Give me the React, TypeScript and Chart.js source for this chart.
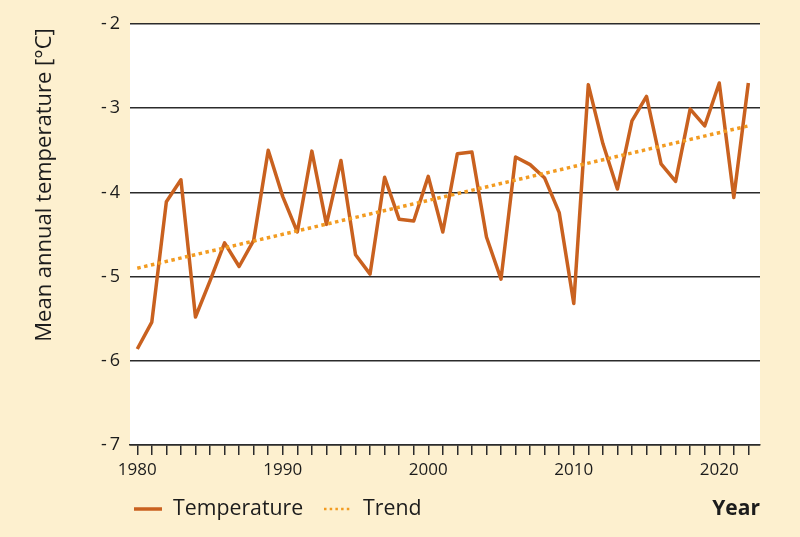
import { useEffect, useRef } from "react";
import { Chart, registerables } from "chart.js";

Chart.register(...registerables);

// Mean annual temperature series, one value per year
const years = [
  1980, 1981, 1982, 1983, 1984, 1985, 1986, 1987, 1988, 1989,
  1990, 1991, 1992, 1993, 1994, 1995, 1996, 1997, 1998, 1999,
  2000, 2001, 2002, 2003, 2004, 2005, 2006, 2007, 2008, 2009,
  2010, 2011, 2012, 2013, 2014, 2015, 2016, 2017, 2018, 2019,
  2020, 2021, 2022,
];
const temperature = [
  -5.86, -5.54, -4.11, -3.85, -5.48, -5.05, -4.6, -4.88, -4.57, -3.5,
  -4.05, -4.47, -3.51, -4.38, -3.62, -4.74, -4.97, -3.82, -4.32, -4.34,
  -3.81, -4.47, -3.54, -3.52, -4.53, -5.03, -3.58, -3.67, -3.83, -4.24,
  -5.32, -2.72, -3.42, -3.96, -3.15, -2.86, -3.66, -3.87, -3.01, -3.21,
  -2.7, -4.06, -2.7,
];

// Linear trend end points
const trendYears = [1980, 2022];
const trendValues = [-4.9, -3.21];

// Axis ticks
const yTicks = [-7, -6, -5, -4, -3, -2];
const decadeLabels = [1980, 1990, 2000, 2010, 2020];

const FONT = "'Open Sans', 'Noto Sans', sans-serif";
const CREAM = "#fdf0cf";
const INK = "#1c1c1c";
const TEMP_COLOR = "#c9611f";
const TREND_COLOR = "#f29b21";

const backdrop = {
  id: "backdrop",
  beforeDraw(chart: any) {
    const { ctx, chartArea } = chart;
    ctx.save();
    ctx.fillStyle = CREAM;
    ctx.fillRect(0, 0, chart.width, chart.height);
    ctx.fillStyle = "#ffffff";
    ctx.fillRect(
      chartArea.left,
      chartArea.top,
      chartArea.right - chartArea.left,
      chartArea.bottom - chartArea.top
    );
    ctx.restore();
  },
};

const annotations = {
  id: "annotations",
  afterDraw(chart: any) {
    const { ctx, chartArea } = chart;
    ctx.save();

    // vertical axis title
    ctx.fillStyle = INK;
    ctx.font = `22px ${FONT}`;
    ctx.textAlign = "center";
    ctx.textBaseline = "middle";
    ctx.translate(45, 185);
    ctx.rotate(-Math.PI / 2);
    ctx.fillText("Mean annual temperature [°C]", 0, 0);
    ctx.setTransform(1, 0, 0, 1, 0, 0);

    // legend row
    const legendY = 509;
    const items = [
      { ds: chart.data.datasets[0], x: 134, w: 3.5, dash: [] as number[] },
      { ds: chart.data.datasets[1], x: 324, w: 2.5, dash: [2.5, 3.2] },
    ];
    ctx.font = `21.3px ${FONT}`;
    ctx.textAlign = "left";
    ctx.textBaseline = "middle";
    for (const it of items) {
      ctx.beginPath();
      ctx.strokeStyle = it.ds.borderColor;
      ctx.lineWidth = it.w;
      ctx.setLineDash(it.dash);
      ctx.moveTo(it.x, legendY);
      ctx.lineTo(it.x + 28, legendY);
      ctx.stroke();
      ctx.setLineDash([]);
      ctx.fillStyle = INK;
      ctx.fillText(it.ds.label, it.x + 39, legendY);
    }

    // horizontal axis title
    ctx.font = `bold 21px ${FONT}`;
    ctx.textAlign = "right";
    ctx.fillText("Year", chartArea.right, legendY);
    ctx.restore();
  },
};

export default function App() {
  const canvasRef = useRef<HTMLCanvasElement | null>(null);

  useEffect(() => {
    const canvas = canvasRef.current;
    if (!canvas) return;

    const chart = new Chart(canvas, {
      type: "line",
      data: {
        datasets: [
          {
            label: "Temperature",
            data: years.map((y, i) => ({ x: y, y: temperature[i] })),
            borderColor: TEMP_COLOR,
            borderWidth: 3.5,
            borderJoinStyle: "round",
            pointRadius: 0,
            tension: 0,
            fill: false,
            order: 1,
          },
          {
            label: "Trend",
            data: trendYears.map((y, i) => ({ x: y, y: trendValues[i] })),
            borderColor: TREND_COLOR,
            borderWidth: 3.5,
            borderDash: [3.5, 3.5],
            pointRadius: 0,
            fill: false,
            order: 0,
          },
        ],
      },
      options: {
        responsive: false,
        animation: false,
        layout: { padding: { top: 24, right: 40, left: 0, bottom: 0 } },
        plugins: {
          legend: { display: false },
          tooltip: { enabled: false },
        },
        scales: {
          x: {
            type: "linear",
            min: 1979.5,
            max: 2022.8,
            afterBuildTicks: (s: any) => {
              s.ticks = years.map((v) => ({ value: v }));
            },
            afterFit: (s: any) => {
              s.height = 92;
            },
            grid: {
              drawOnChartArea: false,
              drawTicks: true,
              tickLength: 10,
              color: "#2b2b2b",
              lineWidth: 1.5,
            },
            border: { display: true, color: "#2b2b2b", width: 1.5 },
            ticks: {
              autoSkip: false,
              maxRotation: 0,
              padding: 5,
              color: INK,
              font: { family: FONT, size: 17 },
              callback: (v: any) =>
                decadeLabels.includes(Number(v)) ? String(v) : "",
            },
          },
          y: {
            min: -7,
            max: -2,
            afterBuildTicks: (s: any) => {
              s.ticks = yTicks.map((v) => ({ value: v }));
            },
            afterFit: (s: any) => {
              s.width = 130;
            },
            grid: { color: "#2b2b2b", lineWidth: 1.5, drawTicks: false },
            border: { display: false },
            ticks: {
              padding: 10,
              color: INK,
              font: { family: FONT, size: 18 },
              callback: (v: any) =>
                Number(v) < 0 ? `-\u2009${Math.abs(Number(v))}` : String(v),
            },
          },
        },
      },
      plugins: [backdrop, annotations],
    });

    return () => chart.destroy();
  }, []);

  return (
    <div style={{ position: "absolute", left: 0, top: 0, width: 800, height: 537 }}>
      <canvas ref={canvasRef} width={800} height={537} style={{ display: "block" }} />
    </div>
  );
}
